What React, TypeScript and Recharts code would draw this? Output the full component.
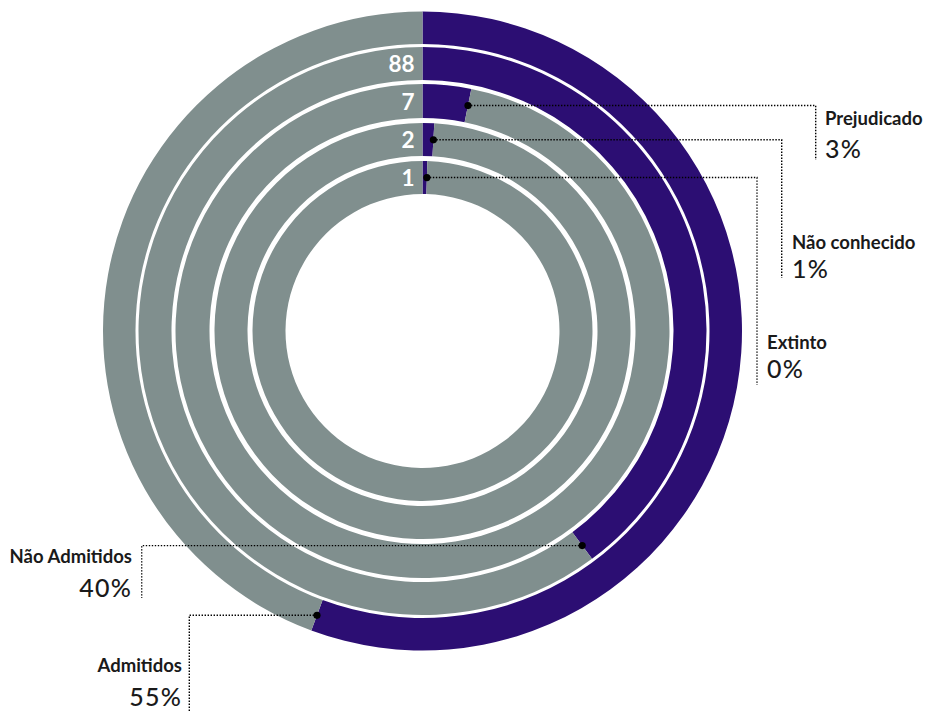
import React from 'react';
import { PieChart, Pie, Cell } from 'recharts';

const categories = ['Admitidos', 'Não Admitidos', 'Prejudicado', 'Não conhecido', 'Extinto'];
const counts = [123, 88, 7, 2, 1];
const percentLabels = ['55%', '40%', '3%', '1%', '0%'];
const countLabels = ['', '88', '7', '2', '1'];
const total = counts.reduce((a, b) => a + b, 0);

const PURPLE = '#2C0E73';
const GRAY = '#808F8E';
const FONT = 'Lato, "Open Sans", sans-serif';
const CX = 422.5;
const CY = 331;
const RAD = Math.PI / 180;

const rings = [
  { inner: 287, outer: 319.5 },
  { inner: 251, outer: 284 },
  { inner: 213, outer: 247 },
  { inner: 175, outer: 208 },
  { inner: 137, outer: 170 },
];

const labelLayout = [
  { anchor: 'end', elbowX: 189.3, endY: 711, textX: 182, nameY: 671.7, pctY: 706 },
  { anchor: 'end', elbowX: 141.7, endY: 598, textX: 132, nameY: 563.3, pctY: 596.7 },
  { anchor: 'start', elbowX: 815.7, endY: 160, textX: 825, nameY: 125, pctY: 158.3 },
  { anchor: 'start', elbowX: 781.7, endY: 278, textX: 792, nameY: 248.5, pctY: 277.5 },
  { anchor: 'start', elbowX: 757, endY: 385, textX: 767, nameY: 348.5, pctY: 377.5 },
];

const ringData = categories.map((name, i) => [
  { name, value: counts[i] },
  { name: 'Outros', value: total - counts[i] },
]);

const makeLabel = (i: number) => (props: any) => {
  if (props.index !== 0) return null;
  const { cx, cy, innerRadius, outerRadius, endAngle } = props;
  const r = (innerRadius + outerRadius) / 2;
  const dx = cx + r * Math.cos(-endAngle * RAD);
  const dy = cy + r * Math.sin(-endAngle * RAD);
  const L = labelLayout[i];
  return (
    <g>
      <path
        d={`M${dx},${dy} H${L.elbowX} V${L.endY}`}
        fill="none"
        stroke="#000"
        strokeWidth={1.4}
        strokeDasharray="1.4 1.6"
      />
      <circle cx={dx} cy={dy} r={3.6} fill="#000" />
      <text x={L.textX} y={L.nameY} textAnchor={L.anchor} fontFamily={FONT} fontWeight={700} fontSize={18.5} fill="#1a1a1a">
        {categories[i]}
      </text>
      <text
        x={L.textX}
        y={L.pctY}
        textAnchor={L.anchor}
        fontFamily={FONT}
        fontWeight={500}
        fontSize={25}
        letterSpacing={1.2}
        fill="#1a1a1a"
      >
        {percentLabels[i]}
      </text>
      {countLabels[i] ? (
        <text
          x={cx - 8}
          y={cy - r}
          textAnchor="end"
          dominantBaseline="central"
          fontFamily={FONT}
          fontWeight={700}
          fontSize={22.5}
          fill="#fff"
        >
          {countLabels[i]}
        </text>
      ) : null}
    </g>
  );
};

export default function App() {
  return (
    <div style={{ position: 'absolute', left: 0, top: 0, background: '#fff' }}>
      <PieChart width={927} height={711} margin={{ top: 0, right: 0, bottom: 0, left: 0 }}>
        {ringData.map((data, i) => (
          <Pie
            key={`ring-${i}`}
            data={data}
            dataKey="value"
            nameKey="name"
            cx={CX}
            cy={CY}
            innerRadius={rings[i].inner}
            outerRadius={rings[i].outer}
            startAngle={90}
            endAngle={-270}
            stroke="none"
            isAnimationActive={false}
            labelLine={false}
            label={false}
          >
            <Cell fill={PURPLE} />
            <Cell fill={GRAY} />
          </Pie>
        ))}
        {ringData.map((data, i) => (
          <Pie
            key={`label-${i}`}
            data={data}
            dataKey="value"
            nameKey="name"
            cx={CX}
            cy={CY}
            innerRadius={rings[i].inner}
            outerRadius={rings[i].outer}
            startAngle={90}
            endAngle={-270}
            fill="none"
            stroke="none"
            isAnimationActive={false}
            labelLine={false}
            label={makeLabel(i)}
          />
        ))}
      </PieChart>
    </div>
  );
}
